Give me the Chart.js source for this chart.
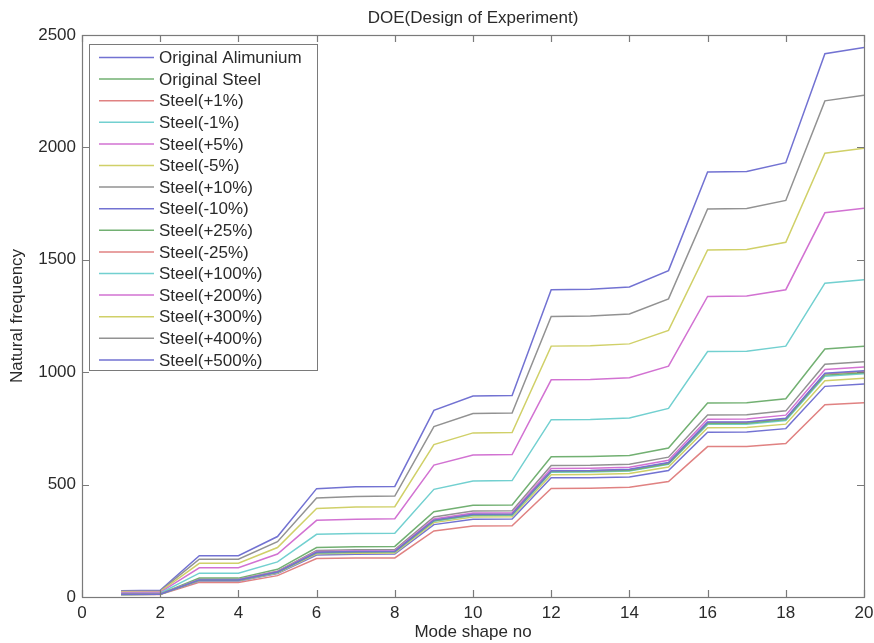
<!DOCTYPE html>
<html>
<head>
<meta charset="utf-8">
<script src="https://cdn.jsdelivr.net/npm/chart.js@4"></script>
<style>
  html, body { margin: 0; padding: 0; background: #fff; }
  #wrap { width: 874px; height: 643px; }
</style>
</head>
<body>
<div id="wrap"><canvas id="doeChart" width="874" height="643"></canvas></div>
<script>
// Mode numbers (x axis)
const modes = [1,2,3,4,5,6,7,8,9,10,11,12,13,14,15,16,17,18,19,20];

// Natural frequency per mode
const origAluminium = [12,12,76,76,111,199,202,203,342,368,369,562,563,568,598,778,779,795,995,1006];
const origSteel     = [11,12,75,75,110,197,200,201,339,365,366,558,559,563,593,772,773,789,987,998];
const steelP1       = [12,12,75,75,111,198,201,202,341,367,368,561,562,566,596,776,777,793,992,1003];
const steelM1       = [11,12,75,75,109,196,199,200,337,363,364,555,556,560,590,768,769,785,982,993];
const steelP5       = [12,13,77,77,113,202,205,206,347,374,375,572,573,577,608,791,792,809,1012,1023];
const steelM5       = [11,12,73,73,107,192,195,196,331,356,357,544,545,549,578,753,754,769,962,973];
const steelP10      = [12,13,79,79,115,207,210,211,356,383,384,585,586,591,622,810,811,828,1035,1047];
const steelM10      = [11,12,71,71,104,187,190,191,322,346,347,530,530,534,563,733,734,749,937,947];
const steelP25      = [13,14,84,84,123,220,224,225,379,408,409,624,625,629,663,863,864,882,1103,1116];
const steelM25      = [10,11,65,65,95,171,173,174,294,316,317,483,484,488,514,669,669,683,855,864];
const steelP100     = [16,17,106,106,156,279,283,284,479,516,518,789,790,796,839,1092,1093,1116,1396,1411];
const steelP200     = [20,21,130,130,191,341,346,348,587,632,634,966,968,975,1027,1337,1339,1367,1709,1729];
const steelP300     = [23,24,150,150,220,394,400,402,678,730,732,1116,1118,1126,1186,1544,1546,1578,1974,1996];
const steelP400     = [26,27,168,168,246,440,447,449,758,816,818,1248,1250,1259,1326,1726,1728,1764,2207,2232];
const steelP500     = [28,30,184,184,269,482,490,492,830,894,896,1367,1369,1379,1452,1891,1893,1932,2417,2444];

const seriesNames = [
  "Original Alimunium", "Original Steel", "Steel(+1%)", "Steel(-1%)", "Steel(+5%)",
  "Steel(-5%)", "Steel(+10%)", "Steel(-10%)", "Steel(+25%)", "Steel(-25%)",
  "Steel(+100%)", "Steel(+200%)", "Steel(+300%)", "Steel(+400%)", "Steel(+500%)"
];
const seriesValues = [
  origAluminium, origSteel, steelP1, steelM1, steelP5, steelM5, steelP10, steelM10,
  steelP25, steelM25, steelP100, steelP200, steelP300, steelP400, steelP500
];

// tick values
const xTicks = [0,2,4,6,8,10,12,14,16,18,20];
const yTicks = [0,500,1000,1500,2000,2500];

const chartTitle = "DOE(Design of Experiment)";

// matlab-ish colour order (washed out like the picture)
const lineColors = ["#7272d2", "#72b072", "#e08282", "#72d0d0", "#d272d2", "#d0d068", "#929292"];

const FONT = "Liberation Sans, Arial, sans-serif";

// box + inward ticks on all four sides, title centred over the axes
const framePlugin = {
  id: 'frame',
  afterDatasetsDraw(chart) {
    const { ctx, chartArea: a, scales: { x, y } } = chart;
    ctx.save();
    ctx.strokeStyle = "#7a7a7a";
    ctx.lineWidth = 1.2;
    ctx.strokeRect(a.left + 0.5, a.top + 0.5, a.width, a.height);
    ctx.beginPath();
    xTicks.forEach(v => {
      const px = Math.round(x.getPixelForValue(v)) + 0.5;
      ctx.moveTo(px, a.bottom); ctx.lineTo(px, a.bottom - 7);
      ctx.moveTo(px, a.top); ctx.lineTo(px, a.top + 7);
    });
    yTicks.forEach(v => {
      const py = Math.round(y.getPixelForValue(v)) + 0.5;
      ctx.moveTo(a.left, py); ctx.lineTo(a.left + 7, py);
      ctx.moveTo(a.right, py); ctx.lineTo(a.right - 7, py);
    });
    ctx.stroke();

    ctx.fillStyle = "#2a2a2a";
    ctx.font = "17px " + FONT;
    ctx.textAlign = "center";
    ctx.textBaseline = "middle";
    ctx.fillText(chartTitle, (a.left + a.right) / 2, 18);
    ctx.restore();
  }
};

// legend box in the upper left of the axes
const legendPlugin = {
  id: 'boxLegend',
  afterDraw(chart) {
    const ctx = chart.ctx;
    const left = 89, top = 44, w = 228, h = 326;
    ctx.save();
    ctx.fillStyle = "#fff";
    ctx.fillRect(left, top, w, h);
    ctx.strokeStyle = "#7a7a7a";
    ctx.lineWidth = 1;
    ctx.strokeRect(left + 0.5, top + 0.5, w, h);
    ctx.font = "17px " + FONT;
    ctx.textBaseline = "middle";
    ctx.textAlign = "left";
    chart.data.datasets.forEach((ds, i) => {
      const cy = 57.5 + i * 21.6;
      ctx.strokeStyle = ds.borderColor;
      ctx.lineWidth = 1.5;
      ctx.beginPath();
      ctx.moveTo(99, cy); ctx.lineTo(154, cy);
      ctx.stroke();
      ctx.fillStyle = "#2a2a2a";
      ctx.fillText(ds.label, 159, cy + 1);
    });
    ctx.restore();
  }
};

new Chart(document.getElementById("doeChart"), {
  type: 'line',
  data: {
    datasets: seriesNames.map((name, i) => ({
      label: name,
      data: seriesValues[i].map((v, j) => ({ x: modes[j], y: v })),
      borderColor: lineColors[i % lineColors.length],
      backgroundColor: lineColors[i % lineColors.length],
      borderWidth: 1.5,
      pointRadius: 0,
      fill: false,
      tension: 0
    }))
  },
  options: {
    responsive: false,
    animation: false,
    layout: { padding: { left: 0, right: 10, top: 35, bottom: 0 } },
    plugins: {
      legend: { display: false },
      tooltip: { enabled: false },
      title: { display: false }
    },
    scales: {
      x: {
        type: 'linear',
        min: 0,
        max: 20,
        afterFit: s => { s.height = 46; s.paddingRight = 0; s.paddingLeft = 0; },
        afterBuildTicks: s => { s.ticks = xTicks.map(v => ({ value: v })); },
        grid: { display: false, drawTicks: false },
        border: { display: false },
        ticks: {
          color: "#2a2a2a",
          padding: 6,
          maxRotation: 0,
          autoSkip: false,
          font: { family: FONT, size: 17 },
          callback: v => String(v)
        },
        title: {
          display: true,
          text: "Mode shape no",
          color: "#2a2a2a",
          font: { family: FONT, size: 17 },
          padding: { top: 0, bottom: 0 }
        }
      },
      y: {
        min: 0,
        max: 2500,
        afterFit: s => { s.width = 82; s.paddingTop = 0; s.paddingBottom = 0; },
        afterBuildTicks: s => { s.ticks = yTicks.map(v => ({ value: v })); },
        grid: { display: false, drawTicks: false },
        border: { display: false },
        ticks: {
          color: "#2a2a2a",
          padding: 6,
          autoSkip: false,
          font: { family: FONT, size: 17 },
          callback: v => String(v)
        },
        title: {
          display: true,
          text: "Natural frequency",
          color: "#2a2a2a",
          font: { family: FONT, size: 17 },
          padding: { top: 7, bottom: 0 }
        }
      }
    }
  },
  plugins: [framePlugin, legendPlugin]
});
</script>
</body>
</html>
